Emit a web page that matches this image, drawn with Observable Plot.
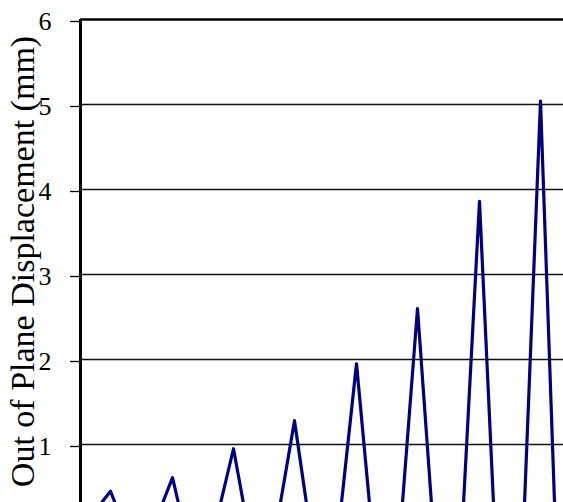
<!DOCTYPE html>
<html>
<head>
<meta charset="utf-8">
<script src="https://cdn.jsdelivr.net/npm/d3@7"></script>
<script src="https://cdn.jsdelivr.net/npm/@observablehq/plot@0.6"></script>
<style>
  html, body { margin: 0; padding: 0; background: #fff; overflow: hidden; }
  #chart { width: 563px; height: 502px; overflow: hidden; }
  #chart svg { max-width: none !important; display: block; }
</style>
</head>
<body>
<div id="chart"></div>
<script>
// Time (arbitrary units) and out-of-plane displacement (mm)
const time = [0, 30, 58.5, 92, 118.8, 153, 182, 214, 246, 276, 307, 337, 369.4, 399, 429.7, 460, 491];
const displacement = [0, 0.45, -0.40, 0.61, -0.74, 0.95, -0.92, 1.28, -1.32, 1.95, -1.97, 2.60, -2.72, 3.86, -3.93, 5.04, -5.40];
const yTicks = [1, 2, 3, 4, 5, 6];
const gridValues = [1, 2, 3, 4, 5];
const yLabel = "Out of Plane Displacement (mm)";

const data = time.map((t, i) => ({t, v: displacement[i]}));

const chart = Plot.plot({
  width: 620,
  height: 560,
  marginLeft: 80,
  marginRight: 20,
  marginTop: 19,
  marginBottom: 31,
  style: {fontFamily: "'Liberation Serif', 'Times New Roman', serif", fontSize: "26px", background: "#fff", color: "#000", maxWidth: "none"},
  x: {domain: [0, 520], axis: null},
  y: {domain: [0, 6], axis: null},
  marks: [
    Plot.gridY(gridValues, {stroke: "#111", strokeOpacity: 1, strokeWidth: 1.3}),
    Plot.axisY({ticks: yTicks, tickFormat: (d) => String(d), tickSize: 10, tickPadding: 19, fontSize: 26, dy: 2, stroke: "#000", strokeWidth: 1.3, label: null}),
    Plot.ruleY([6], {stroke: "#000", strokeWidth: 2.5}),
    Plot.ruleX([0], {stroke: "#000", strokeWidth: 3}),
    Plot.line(data, {x: "t", y: "v", stroke: "#000080", strokeWidth: 3.2, strokeLinejoin: "round"}),
    Plot.text([yLabel], {frameAnchor: "left", rotate: -90, textAnchor: "middle", lineAnchor: "bottom", fontSize: 34, dx: -47, dy: -13, fill: "#000"})
  ]
});
document.getElementById("chart").appendChild(chart);
</script>
</body>
</html>
